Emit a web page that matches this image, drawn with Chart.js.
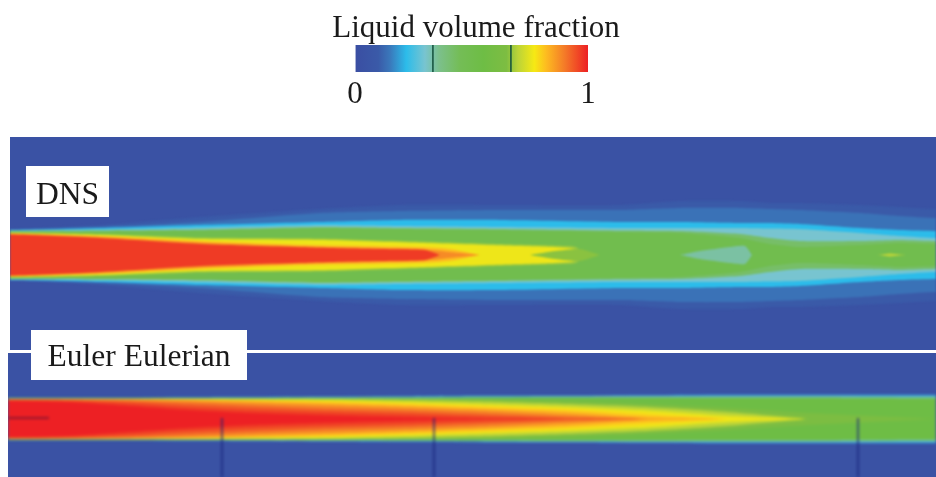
<!DOCTYPE html>
<html>
<head>
<meta charset="utf-8">
<script src="https://cdn.jsdelivr.net/npm/chart.js@4"></script>
<style>
  html, body { margin: 0; padding: 0; background: #fff; overflow: hidden; }
  body { width: 936px; height: 477px; position: relative; font-family: "Liberation Serif", serif; }
  .panel { position: absolute; overflow: hidden; background: #3a52a4; }
  .panel canvas { display: block; }
  #dnsChart { filter: blur(1.1px); }
  #eulerChart { filter: blur(1.4px); }
  #dnsPanel { left: 10px; top: 137px; width: 926px; height: 213px; }
  #eulerPanel { left: 8px; top: 353px; width: 928px; height: 124px; }
  #scaleChart { position: absolute; left: 306px; top: 0; filter: blur(0.4px); }
  .tag { position: absolute; background: #fff; color: #1a1a1a; font-size: 31.5px; display: flex; align-items: center; justify-content: center; filter: blur(0.3px); box-sizing: border-box; }
  #dnsTag { left: 26px; top: 166px; width: 83px; height: 51px; padding-top: 5px; }
  #eulerTag { left: 31px; top: 330px; width: 216px; height: 50px; padding-top: 2px; }
</style>
</head>
<body>
<canvas id="scaleChart" width="340" height="110"></canvas>
<div class="panel" id="dnsPanel"><canvas id="dnsChart" width="926" height="213"></canvas></div>
<div class="panel" id="eulerPanel"><canvas id="eulerChart" width="928" height="124"></canvas></div>
<div class="tag" id="dnsTag">DNS</div>
<div class="tag" id="eulerTag">Euler Eulerian</div>
<script>
// colour scale of the legend: value -> colour
const scaleValues = [0, 0.1, 0.15, 0.22, 0.3, 0.36, 0.45, 0.55, 0.65, 0.7, 0.77, 0.82, 0.9, 1];
const scaleColors = ['#3a4ea2', '#3a5aa8', '#3a78bb', '#2cbcea', '#78c4d0', '#7cc08c', '#74bd56', '#6ebd45', '#7dbd42', '#bcd438', '#f6e914', '#fdbc20', '#f47a28', '#ed2024'];
const scaleTicks = [0, 0.333, 0.667, 1];

// DNS jet, half width of each contour along the axis
const dnsX = [0, 90, 190, 310, 390, 490, 610, 670, 730, 760, 790, 850, 890, 926];
const dnsHalf10 = [26, 30, 38, 46, 50, 50, 50, 54, 54, 52, 52, 50, 48, 46];
const dnsHalf14 = [25.5, 28, 33, 42, 44, 45, 45, 47, 47, 46, 45, 42, 39, 37];
const dnsHalf22 = [25, 27, 30, 33, 35, 35, 33, 33, 32, 32, 31, 27, 25, 24];
const dnsHalf30 = [24.5, 25.5, 27.5, 30, 29, 28, 27, 27, 27, 26.5, 26, 22, 19, 17];
const dnsHalf42 = [24, 24.5, 25.5, 28, 27, 26, 24.5, 24, 21, 17, 14, 14, 15, 14];
const dnsHalf50 = [23, 23.5, 24.5, 27, 26, 25, 23, 22, 17, 11, 8, 10, 12, 11];
const dnsCoreX = [0, 90, 190, 310, 410, 490, 540, 565, 578];
const dnsHalf68 = [22.3, 21, 17.5, 16.5, 13.5, 11, 9.5, 8, 0];
const dnsHalf76 = [22, 20, 16, 15, 12, 9.5, 8, 6, 0];
const dnsForkX = [520, 545, 570, 590];
const dnsFork66 = [0, 4, 6, 0];
const dnsOrangeX = [0, 90, 190, 300, 410, 440, 470];
const dnsHalf82 = [21.5, 19, 14, 10, 8, 6, 0];
const dnsHalf88 = [21, 18, 12.5, 8.5, 6, 3, 0];
const dnsRedX = [0, 90, 190, 300, 365, 415, 430];
const dnsHalf97 = [20.5, 17, 11, 7.5, 6, 5, 0];
const dnsPocketX = [670, 690, 720, 735, 742];
const dnsPocket34 = [0, 4, 8, 9, 0];
const dnsSpotX = [868, 880, 895];
const dnsSpot70 = [0, 1.5, 0];

// Euler Eulerian jet
const eulerX = [0, 60, 120, 180, 240, 320, 400, 480, 560, 640, 720, 800, 928];
const eulerHalf14 = [21.5, 21.5, 21.5, 22, 22, 22.5, 23, 23.5, 23.5, 24, 24.5, 24.5, 24.5];
const eulerHalf22 = [21, 21, 21, 21.3, 21.5, 22, 22.3, 22.7, 23, 23.3, 23.5, 23.5, 23.5];
const eulerHalf30 = [20.8, 20.8, 20.8, 21, 21.2, 21.6, 21.8, 22.2, 22.5, 22.7, 22.8, 22.8, 22.5];
const eulerHalf42 = [20.6, 20.6, 20.6, 20.8, 21, 21.2, 21.4, 21.8, 22, 22, 22, 22, 21.5];
const eulerHalf55 = [20.4, 20.4, 20.4, 20.5, 20.7, 20.9, 21, 21.2, 21.2, 21.2, 21, 21, 20.5];
const eulerHalf64 = [20.2, 20.2, 20.2, 20.3, 20.5, 20.5, 20.2, 19.5, 18, 15, 11, 6, 0];
const eulerHalf70 = [20, 20, 20, 20.2, 20.2, 20, 19, 17.5, 15, 12, 7, 0, 0];
const eulerHalf76 = [19.8, 19.8, 19.8, 19.8, 19.6, 19, 17, 14.5, 12, 8.5, 3, 0, 0];
const eulerHalf79 = [19.7, 19.7, 19.7, 19.6, 19, 17.8, 15.5, 12.8, 10, 5.5, 0, 0, 0];
const eulerHalf82 = [19.6, 19.6, 19.6, 19.4, 18.5, 16.5, 14, 11, 8, 3, 0, 0, 0];
const eulerHalf85 = [19.5, 19.5, 19.4, 18.8, 17.2, 15, 12.5, 9.5, 6, 1, 0, 0, 0];
const eulerHalf88 = [19.4, 19.4, 19.2, 18, 16, 13.5, 11, 8, 4, 0, 0, 0, 0];
const eulerHalf91 = [19.3, 19.2, 18.5, 16.4, 14, 11.2, 9, 6, 2.5, 0, 0, 0, 0];
const eulerHalf94 = [19.2, 19, 17.5, 14.5, 12, 9, 7, 4, 1, 0, 0, 0, 0];
const eulerHalf97 = [18.9, 18.2, 15.5, 11.8, 9, 6.5, 4.5, 2, 0, 0, 0, 0, 0];
const eulerHalf100 = [18.5, 17, 13, 9, 6, 3.5, 1.5, 0, 0, 0, 0, 0, 0];
const probeX = [214, 426, 850];
const probeInletLength = 41;

function colorAt(v) {
  let i = 1;
  while (i < scaleValues.length - 1 && scaleValues[i] < v) i++;
  const t = (v - scaleValues[i - 1]) / (scaleValues[i] - scaleValues[i - 1]);
  const a = parseInt(scaleColors[i - 1].slice(1), 16), b = parseInt(scaleColors[i].slice(1), 16);
  const mix = s => Math.round(((a >> s) & 255) * (1 - t) + ((b >> s) & 255) * t);
  return 'rgb(' + mix(16) + ',' + mix(8) + ',' + mix(0) + ')';
}

// one closed contour: upper edge out, lower edge back
// edges that reach the panel side run on past it so the closing stroke stays off screen
function contour(value, xs, half) {
  let px = [], ph = [];
  if (half[0] > 0) { px.push(xs[0] - 200); ph.push(half[0]); }
  for (let i = 0; i < xs.length; i++) {
    px.push(xs[i]);
    ph.push(half[i]);
    if (i > 0 && half[i] === 0) break; // contour closed here
  }
  if (ph[ph.length - 1] > 0) { px.push(xs[xs.length - 1] + 200); ph.push(half[half.length - 1]); }
  const upper = px.map((x, i) => ({ x: x, y: ph[i] }));
  const lower = px.map((x, i) => ({ x: x, y: -ph[i] })).reverse();
  return {
    label: 'Liquid volume fraction ' + value,
    data: upper.concat(lower),
    showLine: true,
    fill: 'shape',
    backgroundColor: colorAt(value),
    borderWidth: 0,
    pointRadius: 0,
    tension: 0.2
  };
}

function probeLine(points, color) {
  return { data: points, showLine: true, fill: false, borderColor: color, borderWidth: 1, pointRadius: 0 };
}

function panelChart(id, datasets, xMax, yMin, yMax) {
  new Chart(document.getElementById(id), {
    type: 'scatter',
    data: { datasets: datasets.reverse() }, // first dataset is painted last
    options: {
      responsive: false,
      animation: false,
      layout: { padding: 0 },
      plugins: { legend: { display: false }, tooltip: { enabled: false } },
      scales: {
        x: { type: 'linear', min: 0, max: xMax, display: false },
        y: { type: 'linear', min: yMin, max: yMax, display: false }
      }
    }
  });
}

panelChart('dnsChart', [
  contour(0.10, dnsX, dnsHalf10),
  contour(0.14, dnsX, dnsHalf14),
  contour(0.22, dnsX, dnsHalf22),
  contour(0.30, dnsX, dnsHalf30),
  contour(0.42, dnsX, dnsHalf42),
  contour(0.50, dnsX, dnsHalf50),
  contour(0.34, dnsPocketX, dnsPocket34),
  contour(0.70, dnsSpotX, dnsSpot70),
  contour(0.68, dnsCoreX, dnsHalf68),
  contour(0.76, dnsCoreX, dnsHalf76),
  contour(0.66, dnsForkX, dnsFork66),
  contour(0.82, dnsOrangeX, dnsHalf82),
  contour(0.88, dnsOrangeX, dnsHalf88),
  contour(0.97, dnsRedX, dnsHalf97)
], 926, -95, 118);

panelChart('eulerChart', [
  contour(0.14, eulerX, eulerHalf14),
  contour(0.22, eulerX, eulerHalf22),
  contour(0.30, eulerX, eulerHalf30),
  contour(0.42, eulerX, eulerHalf42),
  contour(0.55, eulerX, eulerHalf55),
  contour(0.64, eulerX, eulerHalf64),
  contour(0.70, eulerX, eulerHalf70),
  contour(0.76, eulerX, eulerHalf76),
  contour(0.79, eulerX, eulerHalf79),
  contour(0.82, eulerX, eulerHalf82),
  contour(0.85, eulerX, eulerHalf85),
  contour(0.88, eulerX, eulerHalf88),
  contour(0.91, eulerX, eulerHalf91),
  contour(0.94, eulerX, eulerHalf94),
  contour(0.97, eulerX, eulerHalf97),
  contour(1.00, eulerX, eulerHalf100),
  probeLine([{ x: 0, y: 1 }, { x: probeInletLength, y: 1 }], 'rgba(40,10,60,0.9)'),
  ...probeX.map(x => probeLine([{ x: x, y: 1 }, { x: x, y: -58 }], 'rgba(25,35,120,0.6)'))
], 928, -58, 66);

// legend colour bar
new Chart(document.getElementById('scaleChart'), {
  type: 'bar',
  data: {
    labels: [''],
    datasets: [{
      data: [1],
      barPercentage: 1,
      categoryPercentage: 1,
      backgroundColor: ctx => {
        const area = ctx.chart.chartArea;
        if (!area) return scaleColors[0];
        const g = ctx.chart.ctx.createLinearGradient(area.left, 0, area.right, 0);
        scaleValues.forEach((v, i) => g.addColorStop(v, scaleColors[i]));
        return g;
      }
    }]
  },
  options: {
    indexAxis: 'y',
    responsive: false,
    animation: false,
    layout: { padding: { top: 13 } },
    plugins: {
      legend: { display: false },
      tooltip: { enabled: false },
      title: {
        display: true,
        text: 'Liquid volume fraction',
        color: '#1a1a1a',
        font: { family: '"Liberation Serif"', size: 31, weight: 'normal', lineHeight: 1 },
        padding: { top: 0, bottom: 1 }
      }
    },
    scales: {
      x: {
        type: 'linear',
        min: 0,
        max: 1,
        afterBuildTicks: scale => { scale.ticks = scaleTicks.map(v => ({ value: v })); },
        afterFit: scale => { scale.height = 38; },
        border: { display: false },
        grid: {
          z: 1,
          drawTicks: false,
          lineWidth: 1.8,
          color: c => (c.tick.value === 0 || c.tick.value === 1) ? 'rgba(0,0,0,0)' : 'rgba(20,80,60,0.85)'
        },
        ticks: {
          autoSkip: false,
          maxRotation: 0,
          padding: 4,
          color: '#1a1a1a',
          font: { family: '"Liberation Serif"', size: 31 },
          callback: v => (v === 0 || v === 1) ? String(v) : ''
        }
      },
      // empty side axes hold the bar inside the wider title
      y: {
        position: 'left',
        afterFit: scale => { scale.width = 49; },
        grid: { display: false },
        border: { display: false },
        ticks: { display: false }
      },
      yEnd: {
        position: 'right',
        afterFit: scale => { scale.width = 58; },
        grid: { display: false },
        border: { display: false },
        ticks: { display: false }
      }
    }
  }
});
</script>
</body>
</html>
